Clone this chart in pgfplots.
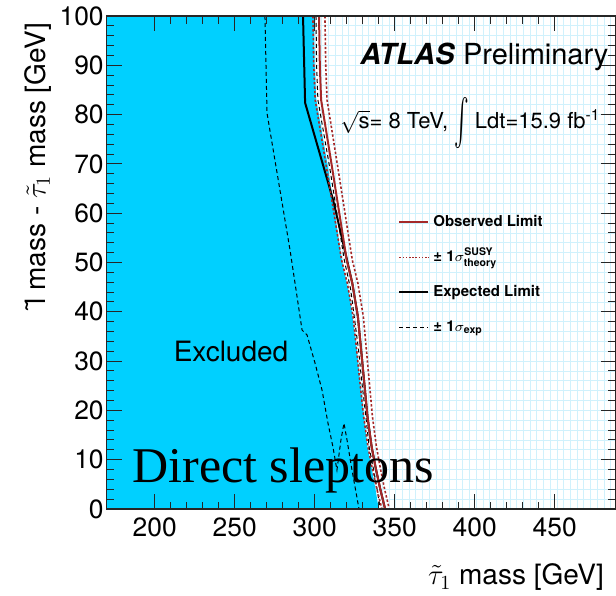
\documentclass[border=0pt]{standalone}
\usepackage{fontspec}
\setmainfont{TeX Gyre Heros}
\newfontfamily\seriffont{Liberation Serif}
\usepackage{amsmath}
\usepackage{graphicx}
\usepackage{pgfplots}
\pgfplotsset{compat=1.18}
\usetikzlibrary{calc}
\definecolor{exclblue}{RGB}{0,208,255}
\definecolor{obsred}{RGB}{165,40,40}
\definecolor{gridblue}{RGB}{208,241,252}
\begin{document}
\begin{tikzpicture}
% background grid
\begin{axis}[name=gridax, width=254.4pt, height=246.5pt, scale only axis,
  xmin=170, xmax=488, ymin=0, ymax=100,
  axis line style={draw=none}, major tick length=0pt,
  xtick={170,174.2,...,488}, ytick={0,2,...,100},
  xticklabels={}, yticklabels={},
  grid=major, major grid style={gridblue, line width=0.4pt}]
\end{axis}
\begin{axis}[name=ax, at={(gridax.south west)}, anchor=south west,
  width=254.4pt, height=246.5pt, scale only axis,
  xmin=170, xmax=488, ymin=0, ymax=100,
  xtick={200,250,...,450}, ytick={0,10,...,100},
  minor x tick num=4, minor y tick num=4,
  tick align=inside, xtick pos=both, ytick pos=both,
  major tick length=7.5pt, minor tick length=3.75pt,
  tick style={black!85, line width=0.5pt},
  axis line style={black!85, line width=0.6pt},
  axis on top,
  tick label style={font=\fontsize{13.2}{15}\selectfont},
  /pgf/number format/assume math mode=true,
  xticklabel style={yshift=-1pt},
  yticklabel style={xshift=2pt},
  xlabel={$\tilde{\tau}_{1}$ mass [GeV]},
  ylabel={\~{l} mass - $\tilde{\tau}_{1}$ mass [GeV]},
  label style={font=\fontsize{14}{16}\selectfont},
  xlabel style={at={(axis description cs:0.991,-0.154)}, anchor=base east},
  ylabel style={at={(axis description cs:-0.135,1.0)}, anchor=east},
  legend style={at={(axis description cs:0.5725,0.606)}, anchor=north west,
    draw=none, fill=none, inner xsep=0pt, inner ysep=0pt, row sep=6pt,
    font=\fontsize{7.5}{9}\selectfont\bfseries,
    nodes={text height=6pt, text depth=1.5pt}},
  legend cell align=left,
  legend image code/.code={\draw[#1] (0pt,0pt) -- (14.5pt,0pt);},
]
% excluded region
\addplot[fill=exclblue, draw=none, forget plot] coordinates {
(170,0) (170,100) (299.6,100) (300,90) (301,83) (308.3,69.4) (317,50.5)
(322,43) (326.4,32.3) (328.3,26.2) (331,18.7) (333,12.6) (335.5,8.5)
(338,4) (340,0)} -- cycle;
% expected -1 sigma (dashed)
\addplot[black, line width=0.5pt, dash pattern=on 2pt off 1.5pt, forget plot] coordinates {
(268.9,100) (270.2,80.3) (284.6,52.5) (292.1,36.3) (295.2,35.3) (300.2,29.6)
(304.6,24.1) (308.3,17.4) (311.4,12.6) (313.9,7.9) (316.4,14) (318.3,17.4)
(320.2,14) (323.3,7.9) (327.7,0)};
% expected +1 sigma (dashed)
\addplot[black, line width=0.5pt, dash pattern=on 2pt off 1.5pt, forget plot] coordinates {
(300.8,100) (301.2,90) (302,83) (309.3,69.4) (318.5,50.5) (322.5,44.5)
(327.4,32.3) (329.3,26.2) (332,18.7) (334,12.6) (336.5,8.5) (339,4) (341,0)};
% expected limit
\addplot[black, line width=1pt, forget plot] coordinates {
(292.7,100) (294,82.4) (311.5,62.7) (320.2,50.5) (323.5,45.8) (327,39)
(329,32.3) (330.8,26.2) (333,18.7) (335.6,12.6) (338,8.5) (341,4) (344,0)};
% theory band
\addplot[obsred, line width=0.8pt, dash pattern=on 1.2pt off 1pt, forget plot] coordinates {
(298.9,100) (299.4,90) (300.3,83) (307.3,69.4) (316.8,50.5) (320.4,45.8)
(324,39) (326.2,32.3) (328.1,26.2) (330.6,18.7) (333.3,12.6) (335.8,8.5)
(338.9,4) (342,0)};
\addplot[obsred, line width=0.8pt, dash pattern=on 1.2pt off 1pt, forget plot] coordinates {
(306.4,100) (306.9,90) (307.7,83) (314.4,69.4) (323.5,50.5) (327,45.8)
(330.4,39) (332.3,32.3) (334,26.2) (336.1,18.7) (338.6,12.6) (340.9,8.5)
(343.7,4) (346.6,0)};
% observed limit
\addplot[obsred, line width=1pt, forget plot] coordinates {
(302.7,100) (303.2,90) (304,83) (310.8,69.4) (320,50.5) (323.5,45.8)
(327,39) (329,32.3) (330.8,26.2) (333,18.7) (335.6,12.6) (338,8.5)
(341,4) (344,0)};
% legend
\addlegendimage{obsred, line width=1pt}
\addlegendentry{Observed Limit}
\addlegendimage{obsred, line width=0.6pt, dash pattern=on 0.8pt off 0.8pt}
\addlegendentry{± 1$\sigma^{\text{SUSY}}_{\text{theory}}$}
\addlegendimage{black, line width=1pt}
\addlegendentry{Expected Limit}
\addlegendimage{black, line width=0.5pt, dash pattern=on 2pt off 1.5pt}
\addlegendentry{± 1$\sigma_{\text{exp}}$}
% texts
\node[anchor=base west, inner sep=0pt, font=\fontsize{14.5}{17}\selectfont] at (axis cs:328.3,90.1) {\textbf{\textit{ATLAS}} Preliminary};
\node[anchor=base west, inner sep=0pt, font=\fontsize{11}{13}\selectfont] at (axis cs:315.8,77.1) {$\sqrt{\text{s}}$= 8 TeV, $\vcenter{\hbox{\scalebox{1}[2.1]{$\int$}}}$ Ldt=15.9 fb$^{\text{-1}}$};
\node[font=\fontsize{14}{16}\selectfont] at (axis cs:247.7,32) {Excluded};
\node[anchor=base west, inner sep=0pt, font=\seriffont\fontsize{25}{28}\selectfont] at (axis cs:185.8,5.3) {Direct sleptons};
\end{axis}
\pgfresetboundingbox
\path[use as bounding box] ($(ax.south west)+(-53.35pt,-43pt)$) rectangle ($(ax.north east)+(0.25pt,8pt)$);
\end{tikzpicture}
\end{document}
